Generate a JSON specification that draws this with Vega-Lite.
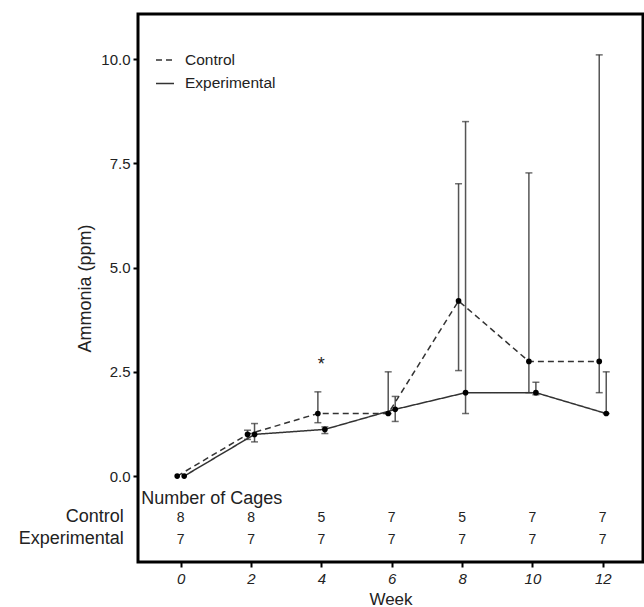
{
  "$schema": "https://vega.github.io/schema/vega-lite/v6.json",
  "width": 505,
  "height": 548,
  "autosize": "none",
  "padding": {"left": 138, "top": 14, "right": 1, "bottom": 45},
  "background": "white",
  "config": {
    "font": "Liberation Sans",
    "view": {"stroke": "black", "strokeWidth": 3},
    "axis": {"grid": false, "domain": false, "tickColor": "black", "tickWidth": 2, "tickSize": 5, "labelColor": "#222", "titleColor": "#222", "labelFont": "Liberation Sans", "titleFont": "Liberation Sans", "titleFontWeight": "normal", "labelFontSize": 15, "titleFontSize": 18},
    "text": {"font": "Liberation Sans", "color": "#222"}
  },
  "datasets": {
    "ammonia": [
      {"week": 0, "group": "Control", "mean": 0, "lo": null, "hi": null},
      {"week": 2, "group": "Control", "mean": 1.0, "lo": 0.88, "hi": 1.1},
      {"week": 4, "group": "Control", "mean": 1.5, "lo": 1.28, "hi": 2.02},
      {"week": 6, "group": "Control", "mean": 1.5, "lo": 1.5, "hi": 2.5},
      {"week": 8, "group": "Control", "mean": 4.2, "lo": 2.53, "hi": 7.01},
      {"week": 10, "group": "Control", "mean": 2.75, "lo": 2.0, "hi": 7.27},
      {"week": 12, "group": "Control", "mean": 2.75, "lo": 2.0, "hi": 10.1},
      {"week": 0, "group": "Experimental", "mean": 0, "lo": null, "hi": null},
      {"week": 2, "group": "Experimental", "mean": 1.0, "lo": 0.82, "hi": 1.26},
      {"week": 4, "group": "Experimental", "mean": 1.12, "lo": 1.02, "hi": 1.18},
      {"week": 6, "group": "Experimental", "mean": 1.6, "lo": 1.31, "hi": 1.91},
      {"week": 8, "group": "Experimental", "mean": 2.0, "lo": 1.5, "hi": 8.5},
      {"week": 10, "group": "Experimental", "mean": 2.0, "lo": 1.95, "hi": 2.25},
      {"week": 12, "group": "Experimental", "mean": 1.5, "lo": 1.5, "hi": 2.5}
    ],
    "cages": [
      {"week": 0, "group": "Control", "n": 8},
      {"week": 2, "group": "Control", "n": 8},
      {"week": 4, "group": "Control", "n": 5},
      {"week": 6, "group": "Control", "n": 7},
      {"week": 8, "group": "Control", "n": 5},
      {"week": 10, "group": "Control", "n": 7},
      {"week": 12, "group": "Control", "n": 7},
      {"week": 0, "group": "Experimental", "n": 7},
      {"week": 2, "group": "Experimental", "n": 7},
      {"week": 4, "group": "Experimental", "n": 7},
      {"week": 6, "group": "Experimental", "n": 7},
      {"week": 8, "group": "Experimental", "n": 7},
      {"week": 10, "group": "Experimental", "n": 7},
      {"week": 12, "group": "Experimental", "n": 7}
    ],
    "rows": [
      {"label": "Control"},
      {"label": "Experimental"}
    ]
  },
  "layer": [
    {
      "data": {"name": "ammonia"},
      "transform": [{"filter": "datum.group == 'Control' && datum.lo != null"}],
      "mark": {"type": "rule", "color": "#555", "strokeWidth": 1.5, "xOffset": -3.5},
      "encoding": {
        "x": {"field": "week", "type": "quantitative", "scale": {"domain": [-1.214, 13.145], "nice": false, "zero": false}, "axis": {"values": [0, 2, 4, 6, 8, 10, 12], "labelFontStyle": "italic", "labelPadding": 4, "title": "Week", "titleFontSize": 17, "titleY": 42, "titleBaseline": "alphabetic"}},
        "y": {"field": "lo", "type": "quantitative", "scale": {"domain": [-2.06, 11.08], "nice": false, "zero": false}, "axis": {"values": [0, 2.5, 5, 7.5, 10], "format": ".1f", "labelPadding": 3, "title": "Ammonia (ppm)", "titleAngle": -90, "titleX": -48, "titleY": 274, "titleBaseline": "alphabetic", "titleAlign": "center"}},
        "y2": {"field": "hi"}
      }
    },
    {
      "data": {"name": "ammonia"},
      "transform": [{"filter": "datum.group == 'Experimental' && datum.lo != null"}],
      "mark": {"type": "rule", "color": "#555", "strokeWidth": 1.5, "xOffset": 3.5},
      "encoding": {
        "x": {"field": "week", "type": "quantitative"},
        "y": {"field": "lo", "type": "quantitative"},
        "y2": {"field": "hi"}
      }
    },
    {
      "data": {"name": "ammonia"},
      "transform": [{"filter": "datum.group == 'Control' && datum.lo != null"}, {"fold": ["lo", "hi"], "as": ["end", "val"]}],
      "mark": {"type": "tick", "orient": "horizontal", "color": "#333", "size": 7, "thickness": 1.5, "xOffset": -3.5},
      "encoding": {
        "x": {"field": "week", "type": "quantitative"},
        "y": {"field": "val", "type": "quantitative"}
      }
    },
    {
      "data": {"name": "ammonia"},
      "transform": [{"filter": "datum.group == 'Experimental' && datum.lo != null"}, {"fold": ["lo", "hi"], "as": ["end", "val"]}],
      "mark": {"type": "tick", "orient": "horizontal", "color": "#333", "size": 7, "thickness": 1.5, "xOffset": 3.5},
      "encoding": {
        "x": {"field": "week", "type": "quantitative"},
        "y": {"field": "val", "type": "quantitative"}
      }
    },
    {
      "data": {"name": "ammonia"},
      "transform": [{"filter": "datum.group == 'Control'"}],
      "mark": {"type": "line", "color": "#333", "strokeWidth": 1.5, "xOffset": -3.5},
      "encoding": {
        "x": {"field": "week", "type": "quantitative"},
        "y": {"field": "mean", "type": "quantitative"},
        "strokeDash": {"field": "group", "type": "nominal", "scale": {"domain": ["Control", "Experimental"], "range": [[6, 4], [1, 0]]}, "legend": {"title": null, "orient": "none", "legendX": 17, "legendY": 36, "symbolType": "stroke", "symbolSize": 324, "symbolStrokeWidth": 1.5, "symbolStrokeColor": "#333", "labelFontSize": 15.5, "labelOffset": 10, "rowPadding": 4.4, "padding": 0, "labelColor": "#222", "labelFont": "Liberation Sans"}}
      }
    },
    {
      "data": {"name": "ammonia"},
      "transform": [{"filter": "datum.group == 'Experimental'"}],
      "mark": {"type": "line", "color": "#333", "strokeWidth": 1.5, "xOffset": 3.5},
      "encoding": {
        "x": {"field": "week", "type": "quantitative"},
        "y": {"field": "mean", "type": "quantitative"},
        "strokeDash": {"field": "group", "type": "nominal"}
      }
    },
    {
      "data": {"name": "ammonia"},
      "transform": [{"filter": "datum.group == 'Control'"}],
      "mark": {"type": "point", "filled": true, "color": "black", "size": 32, "opacity": 1, "xOffset": -3.5},
      "encoding": {
        "x": {"field": "week", "type": "quantitative"},
        "y": {"field": "mean", "type": "quantitative"}
      }
    },
    {
      "data": {"name": "ammonia"},
      "transform": [{"filter": "datum.group == 'Experimental'"}],
      "mark": {"type": "point", "filled": true, "color": "black", "size": 32, "opacity": 1, "xOffset": 3.5},
      "encoding": {
        "x": {"field": "week", "type": "quantitative"},
        "y": {"field": "mean", "type": "quantitative"}
      }
    },
    {
      "data": {"name": "cages"},
      "transform": [{"filter": "datum.group == 'Control'"}],
      "mark": {"type": "text", "fontSize": 14, "baseline": "alphabetic", "align": "center"},
      "encoding": {
        "x": {"field": "week", "type": "quantitative"},
        "y": {"datum": -1.11, "type": "quantitative"},
        "text": {"field": "n", "type": "quantitative"}
      }
    },
    {
      "data": {"name": "cages"},
      "transform": [{"filter": "datum.group == 'Experimental'"}],
      "mark": {"type": "text", "fontSize": 14, "baseline": "alphabetic", "align": "center"},
      "encoding": {
        "x": {"field": "week", "type": "quantitative"},
        "y": {"datum": -1.62, "type": "quantitative"},
        "text": {"field": "n", "type": "quantitative"}
      }
    },
    {
      "data": {"name": "rows"},
      "transform": [{"filter": "datum.label == 'Control'"}],
      "mark": {"type": "text", "fontSize": 18, "baseline": "alphabetic", "align": "right"},
      "encoding": {
        "x": {"datum": -1.62, "type": "quantitative"},
        "y": {"datum": -1.11, "type": "quantitative"},
        "text": {"field": "label", "type": "nominal"}
      }
    },
    {
      "data": {"name": "rows"},
      "transform": [{"filter": "datum.label == 'Experimental'"}],
      "mark": {"type": "text", "fontSize": 18, "baseline": "alphabetic", "align": "right"},
      "encoding": {
        "x": {"datum": -1.62, "type": "quantitative"},
        "y": {"datum": -1.62, "type": "quantitative"},
        "text": {"field": "label", "type": "nominal"}
      }
    },
    {
      "data": {"values": [{"label": "Number of Cages"}]},
      "mark": {"type": "text", "fontSize": 18, "baseline": "alphabetic", "align": "left"},
      "encoding": {
        "x": {"datum": -1.12, "type": "quantitative"},
        "y": {"datum": -0.66, "type": "quantitative"},
        "text": {"field": "label", "type": "nominal"}
      }
    },
    {
      "data": {"values": [{"label": "*", "week": 4}]},
      "mark": {"type": "text", "fontSize": 18, "baseline": "alphabetic", "align": "center"},
      "encoding": {
        "x": {"field": "week", "type": "quantitative"},
        "y": {"datum": 2.55, "type": "quantitative"},
        "text": {"field": "label", "type": "nominal"}
      }
    }
  ]
}
